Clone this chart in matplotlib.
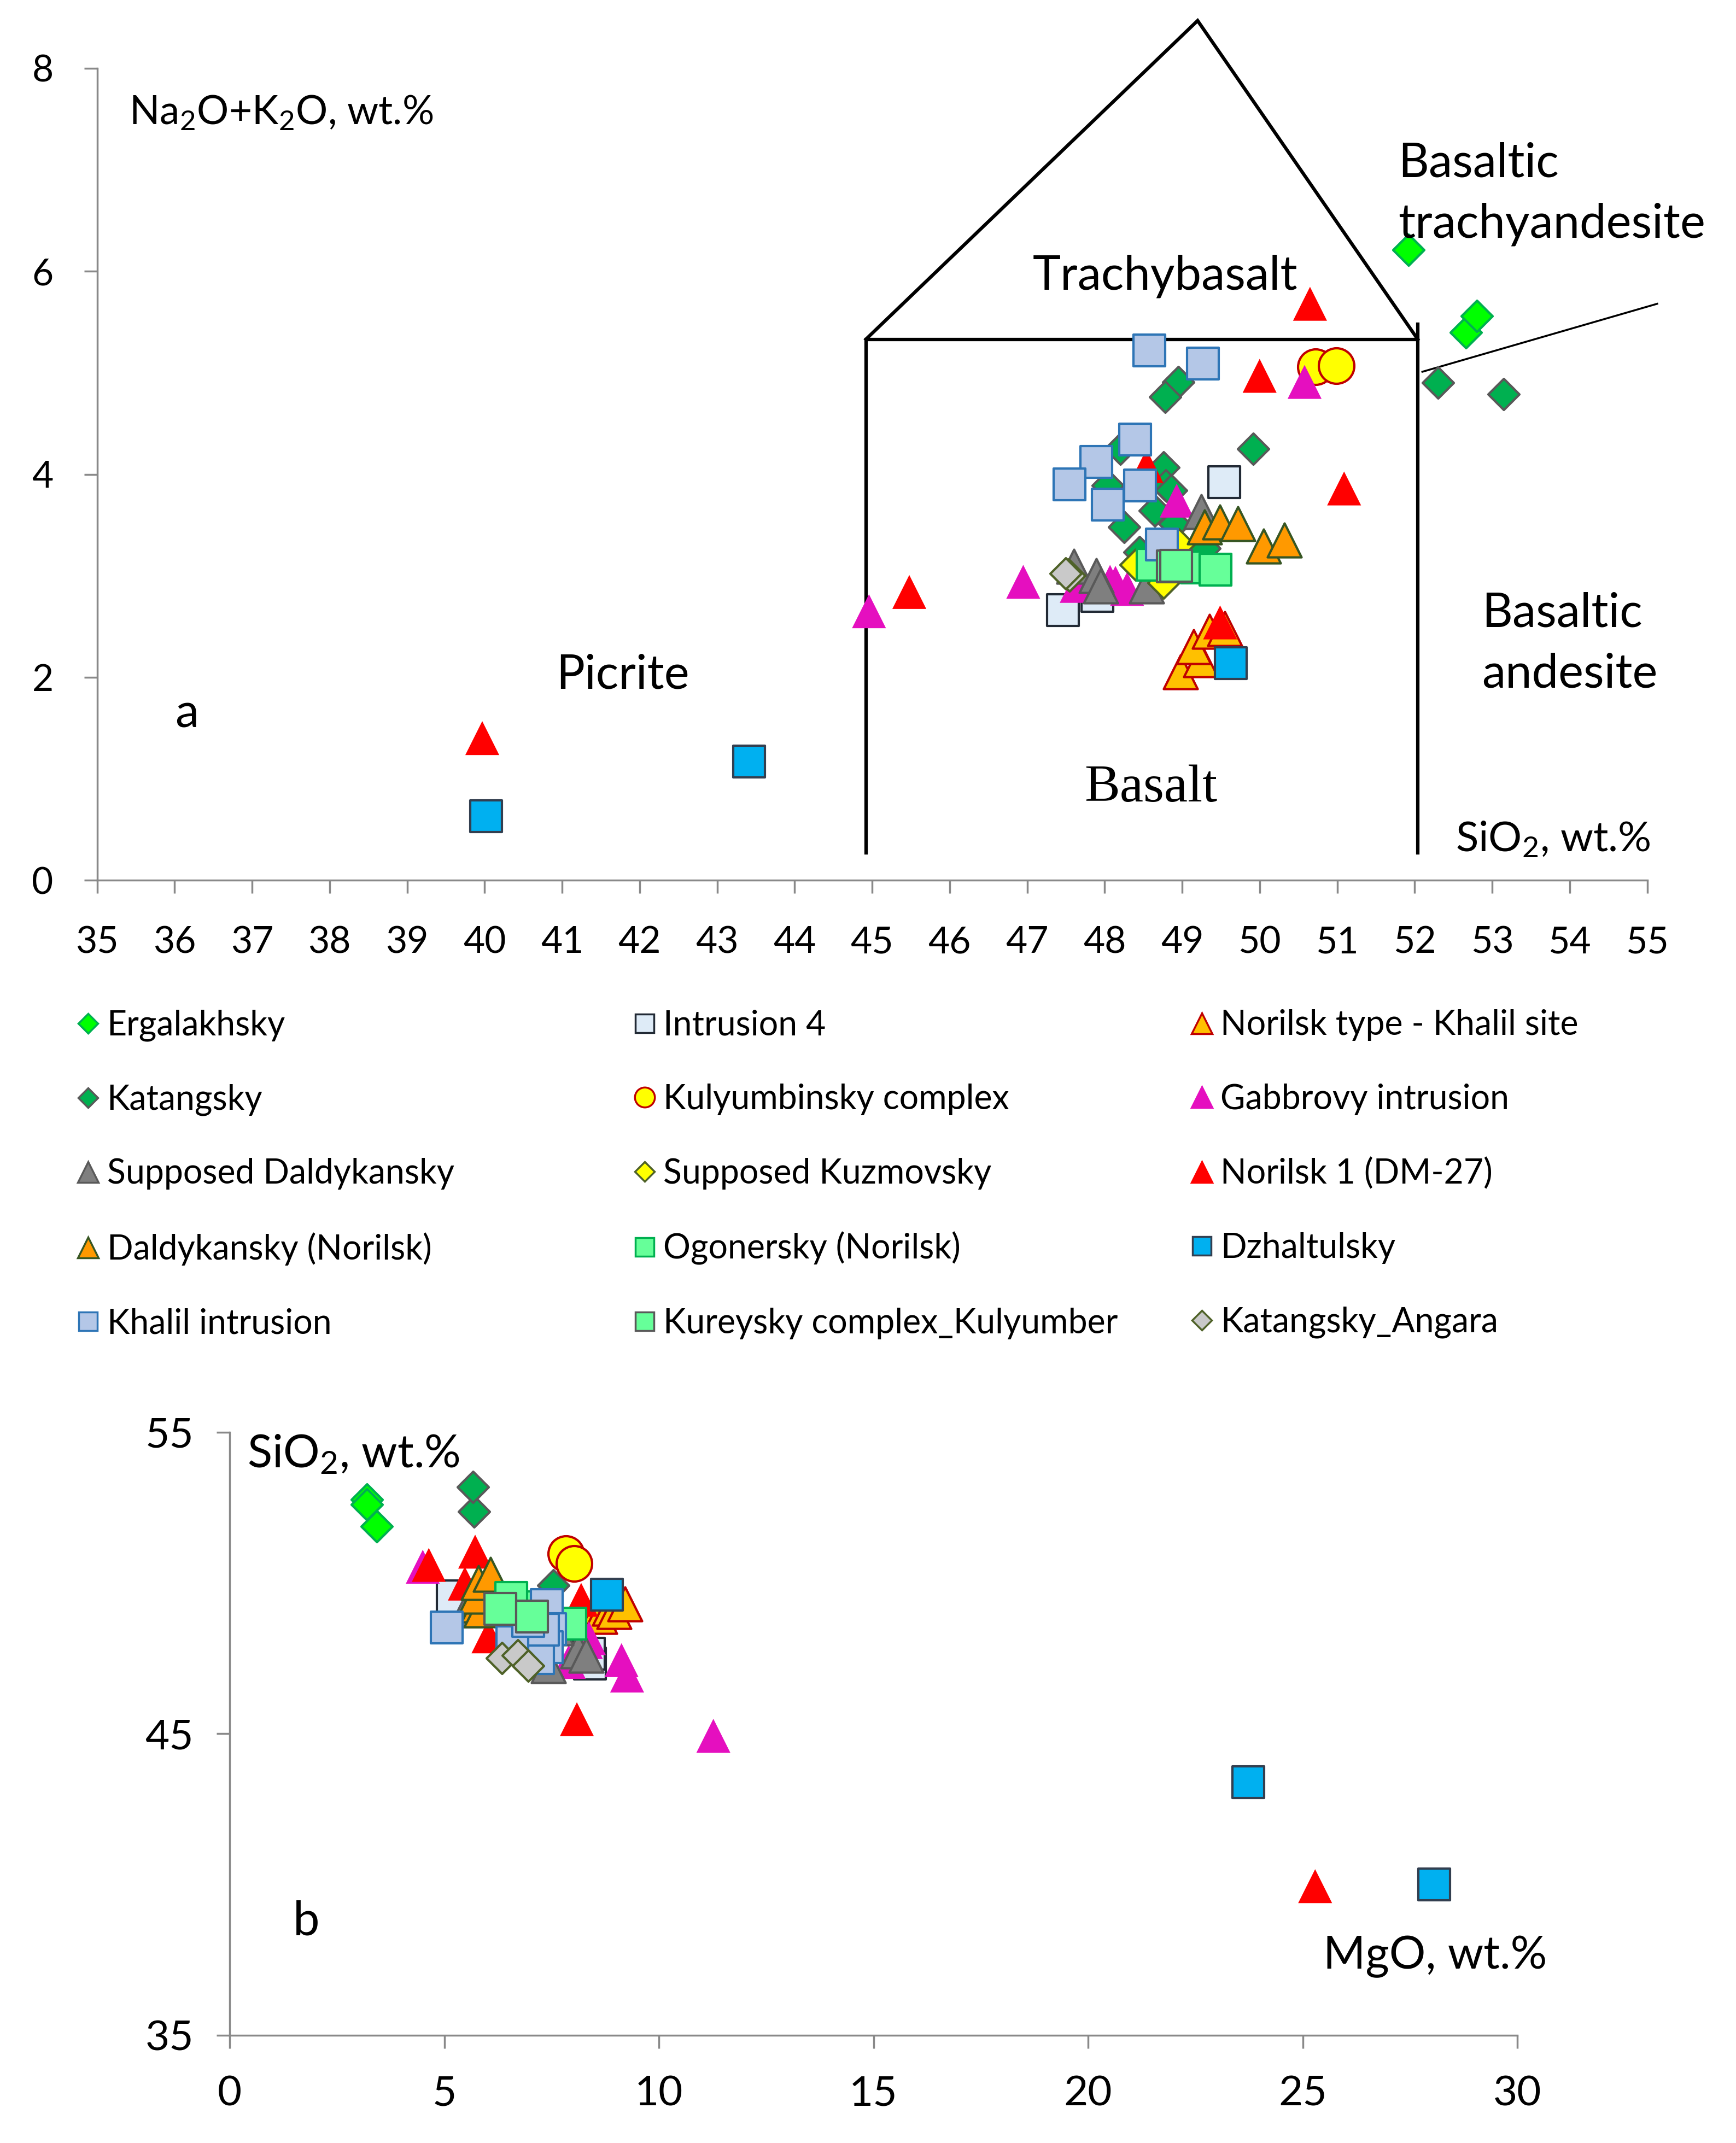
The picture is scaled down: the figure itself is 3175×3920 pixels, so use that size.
import matplotlib
matplotlib.use("Agg")
import matplotlib.pyplot as plt
from matplotlib.lines import Line2D

plt.rcParams['font.family'] = ['Lato', 'DejaVu Sans']
plt.rcParams['mathtext.fontset'] = 'custom'
plt.rcParams['mathtext.rm'] = 'Lato'
plt.rcParams['mathtext.it'] = 'Lato:italic'
plt.rcParams['mathtext.bf'] = 'Lato:bold'

# series, in drawing order
names = ['Ergalakhsky', 'Intrusion 4', 'Norilsk type - Khalil site',
         'Katangsky', 'Kulyumbinsky complex', 'Gabbrovy intrusion',
         'Supposed Daldykansky', 'Supposed Kuzmovsky', 'Norilsk 1 (DM-27)',
         'Daldykansky (Norilsk)', 'Ogonersky (Norilsk)', 'Dzhaltulsky',
         'Khalil intrusion', 'Kureysky complex_Kulyumber', 'Katangsky_Angara']

# panel a: SiO2 vs Na2O+K2O
a_sio2 = [
    [51.92, 52.66, 52.80],
    [49.54, 47.46, 47.91],
    [48.98, 49.24, 49.15, 49.35, 49.55],
    [48.95, 48.78, 49.92, 48.20, 48.76, 48.04, 48.79, 48.86, 48.65, 48.25, 48.90, 48.45, 49.29, 52.30, 53.15],
    [50.72, 50.99],
    [50.58, 48.93, 46.95, 48.14, 48.29, 48.07, 47.64, 44.96],
    [49.25, 47.60, 47.89, 47.95, 48.54],
    [48.40, 48.96, 48.76],
    [50.65, 50.00, 51.09, 48.54, 49.49, 45.48, 39.97],
    [49.29, 49.49, 49.72, 50.05, 50.32],
    [48.62, 49.19, 49.43],
    [40.02, 43.41, 49.63],
    [48.58, 49.27, 48.39, 47.89, 47.55, 48.46, 48.04, 48.74],
    [48.88, 48.92],
    [47.53, 47.55, 47.50],
]
a_alk = [
    [6.21, 5.40, 5.56],
    [3.92, 2.66, 2.80],
    [2.05, 2.17, 2.30, 2.45, 2.48],
    [4.91, 4.76, 4.25, 4.25, 4.07, 3.89, 3.89, 3.84, 3.64, 3.48, 3.51, 3.23, 3.27, 4.90, 4.79],
    [5.06, 5.07],
    [4.91, 3.74, 2.94, 2.93, 2.87, 2.94, 2.90, 2.65],
    [3.63, 3.09, 3.00, 2.90, 2.90],
    [3.11, 3.31, 2.93],
    [5.68, 4.97, 3.86, 4.08, 2.54, 2.84, 1.40],
    [3.48, 3.53, 3.51, 3.29, 3.35],
    [3.11, 3.08, 3.06],
    [0.63, 1.17, 2.14],
    [5.22, 5.09, 4.34, 4.12, 3.90, 3.89, 3.70, 3.31],
    [3.09, 3.10],
    [3.01, 3.00, 3.02],
]

# panel b: MgO vs SiO2
b_mgo = [
    [3.20, 3.20, 3.43],
    [5.20, 8.39, 8.37],
    [8.55, 8.62, 8.85, 8.95, 9.21],
    [7.10, 6.90, 7.54, 7.00, 6.95, 7.05, 7.20, 6.85, 7.10, 6.80, 7.25, 7.00, 7.35, 5.70, 5.67],
    [7.83, 8.03],
    [4.50, 7.30, 9.26, 8.37, 7.90, 8.30, 9.13, 11.27],
    [5.52, 7.43, 8.11, 8.30, 7.60],
    [7.00, 7.50, 7.20],
    [4.64, 5.48, 5.72, 6.03, 8.19, 8.09, 25.29],
    [5.80, 5.86, 5.75, 5.79, 6.08],
    [7.94, 7.00, 6.56],
    [28.06, 23.73, 8.79],
    [5.06, 7.39, 7.47, 7.39, 7.18, 7.30, 6.58, 6.95],
    [6.31, 7.05],
    [6.35, 6.71, 6.96],
]
b_sio2 = [
    [52.77, 52.61, 51.88],
    [49.56, 47.32, 47.65],
    [48.98, 48.89, 49.15, 49.05, 49.30],
    [48.95, 48.78, 49.92, 48.20, 48.76, 48.04, 48.79, 48.86, 48.65, 48.25, 48.90, 48.45, 49.29, 52.37, 53.19],
    [50.98, 50.65],
    [50.54, 48.93, 46.93, 48.17, 47.38, 48.04, 47.44, 44.93],
    [49.10, 47.26, 47.75, 47.60, 48.50],
    [48.40, 48.96, 48.76],
    [50.60, 49.98, 51.04, 48.23, 49.44, 45.48, 39.94],
    [49.26, 49.10, 49.55, 50.01, 50.28],
    [48.65, 49.19, 49.50],
    [39.99, 43.39, 49.62],
    [48.53, 49.26, 48.47, 47.87, 47.50, 48.46, 48.04, 48.74],
    [49.14, 48.89],
    [47.50, 47.60, 47.26],
]

# TAS field boundaries (SiO2, Na2O+K2O)
field_x = [[44.92, 44.92, 52.04], [44.92, 49.20, 52.04], [52.04, 52.04]]
field_y = [[0.27, 5.33, 5.33], [5.33, 8.47, 5.33], [5.48, 0.27]]
thin_x = [52.10, 55.13]
thin_y = [5.01, 5.68]

markers = ['D', 's', '^', 'D', 'o', '^', '^', 'D', '^', '^', 's', 's', 's', 's', 'D']
faces = ['#00FF00', '#DEEBF7', '#FFC000', '#00B050', '#FFFF00', '#E50FBF',
         '#7F7F7F', '#FFFF00', '#FF0000', '#FF9900', '#66FF99', '#00B0F0',
         '#B4C7E7', '#66FF99', '#C9C9C9']
edges = ['#00B050', '#222A35', '#C00000', '#595959', '#C00000', 'none',
         '#595959', '#4F6228', 'none', '#375623', '#00B050', '#333F50',
         '#2E75B6', '#595959', '#4F6228']
msize = {'D': 135, 's': 270, '^': 320, 'o': 350}
lsize = {'D': 7.5, 's': 10, '^': 11, 'o': 10.5}
axis_grey = '#898989'

fig = plt.figure(figsize=(12.7, 15.68), dpi=250)
ax_a = fig.add_axes([71 / 1270, 1 - 644 / 1568, 1134 / 1270, 594 / 1568])
ax_b = fig.add_axes([168 / 1270, 1 - 1489 / 1568, 942 / 1270, 441 / 1568])

for ax in (ax_a, ax_b):
    ax.spines['top'].set_visible(False)
    ax.spines['right'].set_visible(False)
    for s in ('left', 'bottom'):
        ax.spines[s].set_color(axis_grey)
        ax.spines[s].set_linewidth(1.0)
    ax.tick_params(direction='out', length=7, width=1.0, color=axis_grey)
    ax.patch.set_alpha(0)

for i in range(len(names)):
    ec = edges[i]
    lw = 0 if ec == 'none' else 1.2
    ax_a.scatter(a_sio2[i], a_alk[i], s=msize[markers[i]], marker=markers[i],
                 facecolor=faces[i], edgecolor=ec, linewidths=lw, zorder=3 + i)
    ax_b.scatter(b_mgo[i], b_sio2[i], s=msize[markers[i]], marker=markers[i],
                 facecolor=faces[i], edgecolor=ec, linewidths=lw, zorder=3 + i,
                 clip_on=False)

for fx, fy in zip(field_x, field_y):
    ax_a.plot(fx, fy, color='black', lw=1.8, clip_on=False, zorder=2,
              solid_joinstyle='miter')
ax_a.plot(thin_x, thin_y, color='black', lw=1.0, clip_on=False, zorder=2)

ax_a.set_xlim(35, 55)
ax_a.set_ylim(0, 8)
ax_a.set_xticks(range(35, 56))
ax_a.set_yticks(range(0, 9, 2))
ax_a.tick_params(axis='both', labelsize=19.5)
ax_a.tick_params(axis='x', pad=17)
ax_a.tick_params(axis='y', pad=16)

ax_b.set_xlim(0, 30)
ax_b.set_ylim(35, 55)
ax_b.set_xticks(range(0, 31, 5))
ax_b.set_yticks([35, 45, 55])
ax_b.tick_params(axis='both', labelsize=22)
ax_b.tick_params(axis='x', pad=14)
ax_b.tick_params(axis='y', pad=12)

# labels in panel a
ax_a.text(35.41, 7.56, 'Na$_2$O+K$_2$O, wt.%', fontsize=21, ha='left', va='center')
ax_a.text(48.78, 5.95, 'Trachybasalt', fontsize=25, ha='center', va='center')
ax_a.text(51.79, 6.76, 'Basaltic\ntrachyandesite', fontsize=25, ha='left',
          va='center', linespacing=1.5)
ax_a.text(52.87, 2.33, 'Basaltic\nandesite', fontsize=25, ha='left',
          va='center', linespacing=1.5)
ax_a.text(41.78, 2.02, 'Picrite', fontsize=25, ha='center', va='center')
ax_a.text(36.16, 1.64, 'a', fontsize=25, ha='center', va='center')
ax_a.text(48.60, 0.90, 'Basalt', fontsize=28, ha='center', va='center',
          family='Liberation Serif')
ax_a.text(55.04, 0.40, 'SiO$_2$, wt.%', fontsize=22, ha='right', va='center')

# labels in panel b
ax_b.text(0.41, 54.27, 'SiO$_2$, wt.%', fontsize=24, ha='left', va='center')
ax_b.text(1.78, 38.76, 'b', fontsize=25, ha='center', va='center')
ax_b.text(25.48, 37.59, 'MgO, wt.%', fontsize=24, ha='left', va='center')

# legend, three columns placed by hand
handles = []
for i in range(len(names)):
    ec = edges[i] if edges[i] != 'none' else faces[i]
    handles.append(Line2D([], [], linestyle='none', marker=markers[i],
                          markersize=lsize[markers[i]], markerfacecolor=faces[i],
                          markeredgecolor=ec, markeredgewidth=1.0, label=names[i]))

col_x = [55.7 / 1270, 462.75 / 1270, 870.25 / 1270]
for c in range(3):
    fig.legend(handles=handles[c::3], loc='upper left',
               bbox_to_anchor=(col_x[c], 1 - 738.6 / 1568),
               frameon=False, fontsize=18, handlelength=0.7, handletextpad=0.2,
               labelspacing=1.24, borderpad=0, borderaxespad=0)

fig.savefig('out.png', dpi=250)
